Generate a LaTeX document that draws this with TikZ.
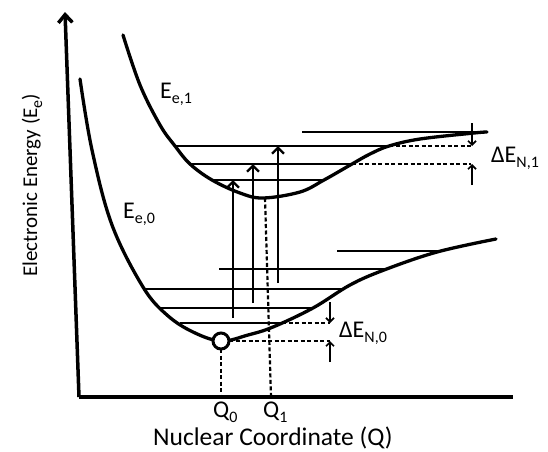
\documentclass[tikz,border=0pt]{standalone}
\usepackage{fontspec}
\setmainfont{Carlito}
\usetikzlibrary{arrows.meta}
\newcommand{\lowsub}[1]{\raisebox{-5pt}{\fontsize{16}{16}\selectfont #1}}

\begin{document}
\begin{tikzpicture}[x=1pt,y=-1pt,
  curve/.style={line width=3.3pt, line cap=round},
  level/.style={line width=2pt},
  gap/.style={line width=2.2pt, dash pattern=on 4pt off 2.5pt},
  excite/.style={line width=2.4pt, -{Straight Barb[length=6pt,width=12pt]}},
  spacing/.style={line width=1.7pt, -{Straight Barb[length=4pt,width=8pt]}},
  lbl/.style={font=\fontsize{24}{26}\selectfont, inner sep=0pt, anchor=base west}]
\useasboundingbox (0,0) rectangle (548,451);
% axes
\coordinate (origin) at (79,397);
\coordinate (ytop) at (65,12);
\coordinate (xend) at (513,397);
\draw[line width=3.5pt, -{Straight Barb[length=8pt,width=14pt]}] (origin) -- (ytop);
\draw[line width=3.5pt] (origin) -- (xend);
% potential curves
\draw[curve] plot[smooth, tension=0.6] coordinates {(80,79) (92,150) (112,225) (143,287) (167,315) (193,332) (221,341) (248,335) (273,327) (313,308) (350,285) (384,270) (437,252) (496,239)};
\draw[curve] plot[smooth, tension=0.6] coordinates {(123,35) (140,85) (160,125) (175,146) (190,164) (212,180) (240,193) (263,198) (300,192) (324,180) (352,164) (370,154) (389,146) (420,139) (474,133) (487,132)};
% vibrational levels, upper state
\draw[level] (302,132) -- (487,132);
\draw[level] (175,146) -- (389,146);
\draw[gap] (389,146) -- (471,146);
\draw[level] (190,164) -- (352,164);
\draw[gap] (352,164) -- (471,164);
\draw[level] (212,180) -- (324,180);
% vibrational levels, ground state
\draw[level] (337,251) -- (437,251);
\draw[level] (219,269) -- (384,269);
\draw[level] (143,289) -- (344,289);
\draw[level] (160,308) -- (313,308);
\draw[level] (180,323) -- (282,323);
\draw[gap] (282,323) -- (330,323);
\draw[gap] (229,341) -- (330,341);
% spacing arrows
\draw[spacing] (472,123) -- (472,146);
\draw[spacing] (472,185) -- (472,164);
\draw[spacing] (330,302) -- (330,323);
\draw[spacing] (330,362) -- (330,341);
% transitions
\draw[excite] (233,318) -- (233,180);
\draw[excite] (253,303) -- (253,164);
\draw[excite] (278,283) -- (278,146);
% equilibrium positions
\draw[gap] (221,349) -- (221,397);
\draw[gap] (265,198) -- (271,397);
\draw[line width=3pt, fill=white] (221,341) circle (8pt);
% labels
\node[lbl] (e1) at (160,98) {E\lowsub{e,1}};
\node[lbl] (e0) at (123,218) {E\lowsub{e,0}};
\node[lbl] (dn1) at (491,162) {ΔE\lowsub{N,1}};
\node[lbl] (dn0) at (339,337) {ΔE\lowsub{N,0}};
\node[lbl] (q0) at (213,417) {Q\lowsub{0}};
\node[lbl] (q1) at (263,417) {Q\lowsub{1}};
\node[lbl, font=\fontsize{25.5}{27}\selectfont] (xlab) at (153,445) {Nuclear Coordinate (Q)};
\node[lbl, font=\fontsize{21}{23}\selectfont, rotate=90] (ylab) at (37,277) {Electronic Energy (E\lowsub{e})};
\end{tikzpicture}
\end{document}
